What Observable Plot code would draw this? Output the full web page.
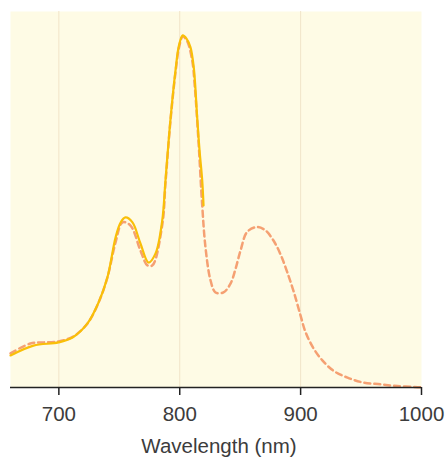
<!DOCTYPE html>
<html>
<head>
<meta charset="utf-8">
<script src="https://cdn.jsdelivr.net/npm/d3@7"></script>
<script src="https://cdn.jsdelivr.net/npm/@observablehq/plot@0.6"></script>
<style>
  html, body { margin: 0; padding: 0; background: #fff; }
  #chart { width: 447px; height: 459px; }
</style>
</head>
<body>
<div id="chart"></div>
<script>
// Wavelength (nm) and normalized absorbance for the solid (measured) spectrum
const solidNm  = [660, 679, 699.7, 711.3, 723.7, 732.8, 740.2, 746.9, 751, 755.1, 760.9, 767.5, 774.2, 780, 785.5, 788.2, 792.4, 796.5, 799.4, 802.5, 805.6, 808.9, 811.6, 814.5, 816.4, 818.6, 819.7];
const solidVal = [0.091, 0.119, 0.128, 0.142, 0.182, 0.241, 0.313, 0.426, 0.468, 0.483, 0.469, 0.409, 0.355, 0.381, 0.474, 0.588, 0.764, 0.901, 0.972, 1.0, 0.991, 0.966, 0.909, 0.764, 0.673, 0.588, 0.517];

// Wavelength (nm) and normalized absorbance for the dashed (reference) spectrum
const dashNm  = [660, 676.5, 687, 699.7, 712, 723.7, 732.8, 740.2, 746.9, 752.7, 759.3, 767.5, 773.3, 777.4, 785.7, 788.2, 792.4, 796.5, 799.4, 802.5, 806, 810.3, 812.5, 815.5, 818.6, 821.3, 825.5, 829.6, 836.2, 842, 846, 850.3, 855.8, 864.1, 871, 877.8, 883.4, 888.9, 894.4, 899.9, 904, 910.7, 918, 927, 938.8, 952, 966, 980, 997, 1000];
const dashVal = [0.097, 0.125, 0.128, 0.131, 0.145, 0.182, 0.241, 0.313, 0.412, 0.469, 0.460, 0.389, 0.347, 0.347, 0.466, 0.58, 0.76, 0.895, 0.966, 0.997, 0.985, 0.929, 0.853, 0.70, 0.517, 0.398, 0.304, 0.270, 0.270, 0.295, 0.335, 0.389, 0.442, 0.456, 0.446, 0.416, 0.378, 0.328, 0.271, 0.205, 0.158, 0.111, 0.077, 0.048, 0.028, 0.014, 0.009, 0.004, 0.001, 0.001];

const xTicks = [700, 800, 900, 1000];
const gridTicks = [700, 800, 900];
const xLabel = "Wavelength (nm)";

const solid = solidNm.map((d, i) => ({nm: d, v: solidVal[i]}));
const dashed = dashNm.map((d, i) => ({nm: d, v: dashVal[i]}));

const font = "'Liberation Sans', Arial, sans-serif";

const chart = Plot.plot({
  width: 447,
  height: 459,
  marginTop: 11,
  marginBottom: 72,
  marginLeft: 10,
  marginRight: 26,
  style: {fontFamily: font, background: "#ffffff", overflow: "visible"},
  x: {domain: [660, 1000]},
  y: {domain: [0, 1.068], axis: null},
  marks: [
    Plot.frame({fill: "#fefbe5", stroke: null}),
    Plot.gridX(gridTicks, {stroke: "#f1e4c9", strokeOpacity: 1, strokeWidth: 1}),
    Plot.line(dashed, {x: "nm", y: "v", stroke: "#f5a072", strokeWidth: 2.5, strokeDasharray: "6,4", curve: "catmull-rom"}),
    Plot.line(solid, {x: "nm", y: "v", stroke: "#f9bf08", strokeWidth: 2.2, curve: "catmull-rom"}),
    Plot.ruleY([0], {stroke: "#222", strokeWidth: 1.5}),
    Plot.axisX(xTicks, {tickSize: 8, tickPadding: 11, fontSize: 20.5, stroke: "#222", strokeWidth: 1.5, fill: "#3c3c3c", tickFormat: d => String(d), label: null}),
    Plot.text([xLabel], {frameAnchor: "bottom", dy: 59, dx: 3, fontSize: 20.5, fill: "#3c3c3c", lineAnchor: "middle"})
  ]
});
document.getElementById("chart").appendChild(chart);
</script>
</body>
</html>
